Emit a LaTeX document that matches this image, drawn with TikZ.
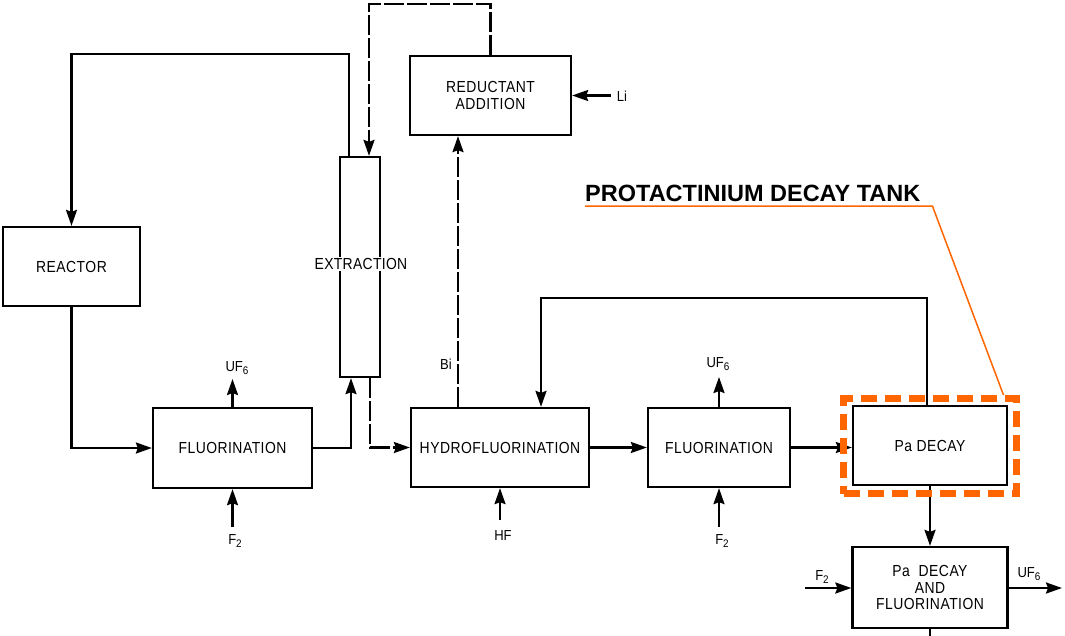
\documentclass[tikz,border=0pt]{standalone}
\usepackage{fontspec}
\setmainfont{Liberation Sans}
\usetikzlibrary{arrows.meta,calc}
\definecolor{orng}{RGB}{255,102,0}
\newcommand\mysub[1]{\raisebox{-0.45ex}{\fontsize{11}{11}\selectfont #1}}
\begin{document}
\begin{tikzpicture}[x=1pt,y=-1pt,
 box/.style={draw, line width=2.3pt, inner sep=0pt, align=center, font=\fontsize{16}{16.5}\selectfont\addfontfeatures{FakeStretch=0.87,LetterSpace=3}},
 flow/.style={line width=2.3pt, -{Stealth[length=16pt,width=11pt,inset=2pt]}},
 plain/.style={line width=2.3pt},
 dashflow/.style={flow, dash pattern=on 20pt off 3pt},
 lbl/.style={font=\fontsize{14.5}{15}\selectfont\addfontfeatures{FakeStretch=0.9}, inner sep=0pt}]
\useasboundingbox (0,0) rectangle (1065,635);
\fill[white] (0,0) rectangle (1065,635);

% boxes
\node[box, minimum width=137pt, minimum height=79pt] (reactor) at (71.5,266.5) {REACTOR};
\node[box, minimum width=159pt, minimum height=80pt] (fluor1) at (232.5,448) {FLUORINATION};
\node[box, minimum width=40pt, minimum height=220pt] (extr) at (360,267) {};
\node[fill=white, inner sep=1pt, font=\fontsize{16}{16}\selectfont\addfontfeatures{FakeStretch=0.87,LetterSpace=2}] (extrlbl) at (361,264) {EXTRACTION};
\node[box, minimum width=161pt, minimum height=79pt] (reduct) at (490.5,95.5) {REDUCTANT\\ADDITION};
\node[box, minimum width=178pt, minimum height=79pt] (hydro) at (500,447.5) {HYDROFLUORINATION};
\node[box, minimum width=142pt, minimum height=79pt] (fluor2) at (719,447.5) {FLUORINATION};
\node[box, minimum width=154pt, minimum height=79pt] (padecay) at (930,445.5) {Pa DECAY};
\node[box, minimum width=155pt, minimum height=81pt] (pafluor) at (930,587.5) {Pa\ \ DECAY\\AND\\FLUORINATION};

% free ends
\coordinate (uf6a) at (232.5,379);
\coordinate (f2a) at (232.5,527);
\coordinate (li) at (611,95.5);
\coordinate (hf) at (500,520);
\coordinate (uf6b) at (719,377);
\coordinate (f2b) at (719,527);
\coordinate (f2c) at (805,588);
\coordinate (uf6c) at (1062,588);
\coordinate (bot) at (930,640);

% labels
\node[lbl] (luf6a) at (237,368) {UF\mysub{6}};
\node[lbl] (lf2a) at (235,541) {F\mysub{2}};
\node[lbl] (lli) at (622,96) {Li};
\node[lbl] (lhf) at (503,536) {HF};
\node[lbl] (lbi) at (446,364) {Bi};
\node[lbl] (luf6b) at (718,364) {UF\mysub{6}};
\node[lbl] (lf2b) at (722,541) {F\mysub{2}};
\node[lbl] (lf2c) at (822,577) {F\mysub{2}};
\node[lbl] (luf6c) at (1029,574) {UF\mysub{6}};

% connectors
\draw[flow] ([xshift=-11pt]extr.north) -- ++(0,-102) -| (reactor.north);
\draw[flow] (reactor.south) |- (fluor1.west);
\draw[flow] (fluor1.north) -- (uf6a);
\draw[flow] (f2a) -- (fluor1.south);
\draw[flow] (fluor1.east) -| ([xshift=-9pt]extr.south);
\draw[dashflow] ([xshift=10pt]extr.south) |- (hydro.west);
\draw[dashflow] (reduct.north) -- ++(0,-51) -| ([xshift=9pt]extr.north);
\draw[dashflow] ([xshift=-42pt]hydro.north) -- ([xshift=-42pt]hydro.north |- reduct.south);
\draw[flow] (li) -- (reduct.east);
\draw[flow] (hf) -- (hydro.south);
\draw[flow] (hydro.east) -- (fluor2.west);
\draw[flow] (fluor2.north) -- (uf6b);
\draw[flow] (f2b) -- (fluor2.south);
\draw[flow] (fluor2.east) -- (fluor2.east -| padecay.west);
\draw[flow] ([xshift=-3pt]padecay.north) -- ++(0,-107) -| ([xshift=41pt]hydro.north);
\draw[flow] (padecay.south) -- (pafluor.north);
\draw[flow] (f2c) -- (f2c -| pafluor.west);
\draw[flow] (pafluor.east |- uf6c) -- (uf6c);
\draw[plain] (pafluor.south) -- (bot);

% annotation
\node[draw=orng, line width=7pt, dash pattern=on 16pt off 8pt, minimum width=173pt, minimum height=95pt, inner sep=0pt] (padash) at (930,446) {};
\node[anchor=base west, inner sep=0pt, text depth=5pt, font=\bfseries\fontsize{23.5}{24}\selectfont] (ann) at (585,201) {PROTACTINIUM DECAY TANK};
\draw[orng, line width=1.5pt] (ann.south west) -- ([xshift=12pt]ann.south east) -- ([xshift=-16.5pt]padash.north east);
\end{tikzpicture}
\end{document}
